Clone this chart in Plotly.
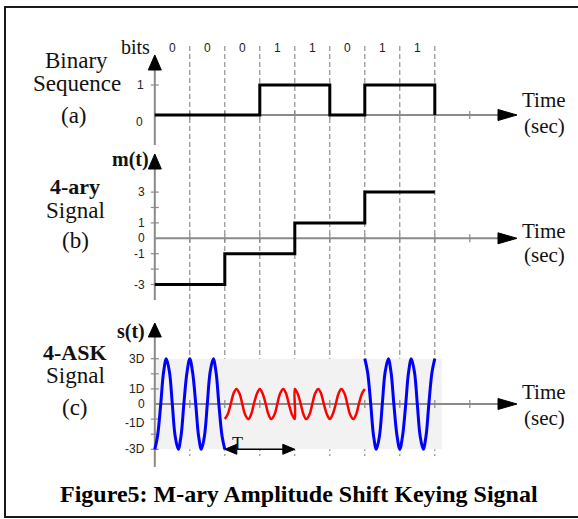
import plotly.graph_objects as go

# ---------------- data ----------------
bit_labels = ["0", "0", "0", "1", "1", "0", "1", "1"]
bit_values = [0, 0, 0, 1, 1, 0, 1, 1]
bit_edges = [0, 1, 2, 3, 4, 5, 6, 7, 8]

symbol_edges = [0, 2, 4, 6, 8]
symbol_levels = [-3, -1, 1, 3]

a_tick_vals = [1, 0]
a_tick_text = ["1", "0"]
b_tick_vals = [3, 1, 0, -1, -3]
b_tick_text = ["3", "1", "0", "-1", "-3"]
b_minor = [2, -2]
c_tick_vals = [3, 1, 0, -1, -3]
c_tick_text = ["3D", "1D", "0", "-1D", "-3D"]
c_minor = [2, -2]
time_ticks = [1, 2, 3, 4, 5, 6, 7, 8, 9]

# s(t) at eighth-carrier-period points
s_blue1_t = [0, 0.08, 0.17, 0.25, 0.33, 0.42, 0.5, 0.58, 0.67, 0.75, 0.83, 0.92, 1.0,
             1.08, 1.17, 1.25, 1.33, 1.42, 1.5, 1.58, 1.67, 1.75, 1.83, 1.92, 2.0]
s_blue1_v = [-3, -2.1, 0, 2.1, 3, 2.1, 0, -2.1, -3, -2.1, 0, 2.1, 3,
             2.1, 0, -2.1, -3, -2.1, 0, 2.1, 3, 2.1, 0, -2.1, -3]
s_red_t = [2.0, 2.08, 2.17, 2.25, 2.33, 2.42, 2.5, 2.58, 2.67, 2.75, 2.83, 2.92, 3.0,
           3.08, 3.17, 3.25, 3.33, 3.42, 3.5, 3.58, 3.67, 3.75, 3.83, 3.92, 4.0,
           4.0, 4.08, 4.17, 4.25, 4.33, 4.42, 4.5, 4.58, 4.67, 4.75, 4.83, 4.92, 5.0,
           5.08, 5.17, 5.25, 5.33, 5.42, 5.5, 5.58, 5.67, 5.75, 5.83, 5.92, 6.0]
s_red_v = [-1, -0.7, 0, 0.7, 1, 0.7, 0, -0.7, -1, -0.7, 0, 0.7, 1,
           0.7, 0, -0.7, -1, -0.7, 0, 0.7, 1, 0.7, 0, -0.7, -1,
           1, 0.7, 0, -0.7, -1, -0.7, 0, 0.7, 1, 0.7, 0, -0.7, -1,
           -0.7, 0, 0.7, 1, 0.7, 0, -0.7, -1, -0.7, 0, 0.7, 1]
s_blue2_t = [6.0, 6.08, 6.17, 6.25, 6.33, 6.42, 6.5, 6.58, 6.67, 6.75, 6.83, 6.92, 7.0,
             7.08, 7.17, 7.25, 7.33, 7.42, 7.5, 7.58, 7.67, 7.75, 7.83, 7.92, 8.0]
s_blue2_v = [3, 2.1, 0, -2.1, -3, -2.1, 0, 2.1, 3, 2.1, 0, -2.1, -3,
             -2.1, 0, 2.1, 3, 2.1, 0, -2.1, -3, -2.1, 0, 2.1, 3]

# ---------------- layout geometry ----------------
W, H = 578, 519
X0, PPU = 154.8, 35.0          # pixel of t=0, pixels per bit
A0, A_PPU = 115.0, 30.0        # panel (a) zero pixel row, px per unit
B0, B_PPU = 238.3, 15.4
C0, C_PPU = 404.0, 15.1

def xr(px0, ppu):
    return [-px0 / ppu, (W - px0) / ppu]

def yr(py0, ppu):
    return [(py0 - H) / ppu, py0 / ppu]

def P(px, py):
    return px / W, 1 - py / H

AXIS_COL = "#8a8a8a"
serif = "Liberation Serif, Times New Roman, serif"
sans = "Liberation Sans, Arial, sans-serif"

fig = go.Figure()

# traces
fig.add_trace(go.Scatter(x=bit_edges + [bit_edges[-1]], y=bit_values + [bit_values[-1], 0],
                         mode="lines", line=dict(color="black", width=3, shape="hv"),
                         xaxis="x", yaxis="y", hoverinfo="skip"))
fig.add_trace(go.Scatter(x=symbol_edges, y=symbol_levels + [symbol_levels[-1]],
                         mode="lines", line=dict(color="black", width=3, shape="hv"),
                         xaxis="x", yaxis="y2", hoverinfo="skip"))
fig.add_trace(go.Scatter(x=s_blue1_t, y=s_blue1_v, mode="lines",
                         line=dict(color="#0000ff", width=3, shape="spline"),
                         xaxis="x", yaxis="y3", hoverinfo="skip"))
fig.add_trace(go.Scatter(x=s_red_t, y=s_red_v, mode="lines",
                         line=dict(color="#ff0000", width=2.5, shape="spline"),
                         xaxis="x", yaxis="y3", hoverinfo="skip"))
fig.add_trace(go.Scatter(x=s_blue2_t, y=s_blue2_v, mode="lines",
                         line=dict(color="#0000ff", width=3, shape="spline"),
                         xaxis="x", yaxis="y3", hoverinfo="skip"))

shapes = []
# gray background of panel (c)
shapes.append(dict(type="rect", xref="x", yref="y3", x0=0, x1=8.2, y0=-3, y1=3,
                   fillcolor="#f2f2f2", line=dict(width=0), layer="below"))

# dashed bit boundaries
for t in bit_edges[1:]:
    shapes.append(dict(type="line", xref="x", yref="paper", x0=t, x1=t,
                       y0=1 - 46 / H, y1=1 - 456 / H,
                       line=dict(color="#7a7a7a", width=1, dash="5px,3px"), layer="below"))

T_TIP = (517 - X0) / PPU
T_BASE = (498 - X0) / PPU

def panel_axes(yref, ppu, vbot, vtip, vbase, ticks, minor):
    # horizontal axis
    shapes.append(dict(type="line", xref="x", yref=yref, x0=0, x1=T_BASE, y0=0, y1=0,
                       line=dict(color=AXIS_COL, width=2), layer="below"))
    hh = 5.5 / ppu
    shapes.append(dict(type="path", xref="x", yref=yref,
                       path=f"M {T_BASE},{hh} L {T_TIP},0 L {T_BASE},{-hh} Z",
                       fillcolor="black", line=dict(color="black", width=1)))
    for t in time_ticks:
        shapes.append(dict(type="line", xref="x", yref=yref, x0=t, x1=t,
                           y0=-4 / ppu, y1=4 / ppu,
                           line=dict(color=AXIS_COL, width=1.2), layer="below"))
    # vertical axis
    shapes.append(dict(type="line", xref="x", yref=yref, x0=0, x1=0, y0=vbot, y1=vbase,
                       line=dict(color=AXIS_COL, width=2), layer="below"))
    hw = 6.5 / PPU
    shapes.append(dict(type="path", xref="x", yref=yref,
                       path=f"M {-hw},{vbase} L 0,{vtip} L {hw},{vbase} Z",
                       fillcolor="black", line=dict(color="black", width=1)))
    for v in ticks + minor:
        if v == 0:
            continue
        shapes.append(dict(type="line", xref="x", yref=yref, x0=-4 / PPU, x1=4 / PPU,
                           y0=v, y1=v, line=dict(color=AXIS_COL, width=1.2), layer="below"))

panel_axes("y", A_PPU, (A0 - 145) / A_PPU, (A0 - 55) / A_PPU, (A0 - 70) / A_PPU, [1], [])
panel_axes("y2", B_PPU, (B0 - 300) / B_PPU, (B0 - 154) / B_PPU, (B0 - 169) / B_PPU,
           b_tick_vals, b_minor)
panel_axes("y3", C_PPU, (C0 - 467) / C_PPU, (C0 - 323) / C_PPU, (C0 - 337) / C_PPU,
           c_tick_vals, c_minor)

# T double arrow in (c)
ty = -3
shapes.append(dict(type="line", xref="x", yref="y3", x0=2 + 12 / PPU, x1=4 - 12 / PPU,
                   y0=ty, y1=ty, line=dict(color="black", width=1.5)))
ah = 5 / C_PPU
al = 12 / PPU
shapes.append(dict(type="path", xref="x", yref="y3",
                   path=f"M 2,{ty} L {2 + al},{ty + ah} L {2 + al},{ty - ah} Z",
                   fillcolor="black", line=dict(color="black", width=1)))
shapes.append(dict(type="path", xref="x", yref="y3",
                   path=f"M 4,{ty} L {4 - al},{ty + ah} L {4 - al},{ty - ah} Z",
                   fillcolor="black", line=dict(color="black", width=1)))

# outer frame
shapes.append(dict(type="rect", xref="paper", yref="paper",
                   x0=5 / W, x1=590 / W, y0=1 - 517 / H, y1=1 - 7 / H,
                   line=dict(color="#1a1a1a", width=2), fillcolor="rgba(0,0,0,0)"))

ann = []

def txt(px, py, s, size=23, family=serif, xanchor="center", color="#111", bold=False):
    x, y = P(px, py)
    if bold:
        s = f"<b>{s}</b>"
    ann.append(dict(x=x, y=y, xref="paper", yref="paper", text=s, showarrow=False,
                    xanchor=xanchor, yanchor="middle",
                    font=dict(size=size, family=family, color=color)))

# bit labels
for t, lab in zip(bit_edges[:-1], bit_labels):
    txt(X0 + (t + 0.5) * PPU, 48, lab, size=12, family=sans, color="#222")
txt(135, 47, "bits", size=20)

# tick labels (a)
for v, s in zip(a_tick_vals, a_tick_text):
    py = A0 - v * A_PPU + (7 if v == 0 else 0)
    txt(146 if v else 145, py, s, size=12, family=sans, xanchor="right", color="#222")
# (b)
for v, s in zip(b_tick_vals, b_tick_text):
    txt(146.5, B0 - v * B_PPU, s, size=12, family=sans, xanchor="right", color="#222")
# (c)
for v, s in zip(c_tick_vals, c_tick_text):
    off = 4 if v == -1 else 0
    txt(147, C0 - v * C_PPU + off, s, size=12, family=sans, xanchor="right", color="#222")

# axis names
txt(130, 160, "m(t)", size=20, bold=True)
txt(131, 331, "s(t)", size=20, bold=True)

# panel names
txt(77, 61, "Binary")
txt(77, 83, "Sequence")
txt(74, 115, "(a)")
txt(75, 187, "4-ary", size=22, bold=True)
txt(75, 210, "Signal")
txt(75, 240, "(b)")
txt(75, 352, "4-ASK", size=22, bold=True)
txt(75, 375, "Signal")
txt(75, 407, "(c)")

for ty_, sy_ in [(100, 126), (231, 255), (392, 418)]:
    txt(544, ty_, "Time", size=21)
    txt(544, sy_, "(sec)", size=21)

txt(237, 444, "T", size=18)

txt(299, 494, "Figure5: M-ary Amplitude Shift Keying Signal", size=24, bold=True, color="#000")

fig.update_layout(
    width=W, height=H,
    margin=dict(l=0, r=0, t=0, b=0),
    paper_bgcolor="white", plot_bgcolor="white",
    showlegend=False,
    font=dict(family=serif),
    xaxis=dict(range=xr(X0, PPU), visible=False, fixedrange=True),
    yaxis=dict(range=yr(A0, A_PPU), visible=False, fixedrange=True),
    yaxis2=dict(range=yr(B0, B_PPU), visible=False, fixedrange=True, overlaying="y"),
    yaxis3=dict(range=yr(C0, C_PPU), visible=False, fixedrange=True, overlaying="y"),
    shapes=shapes,
    annotations=ann,
)

fig.write_html("out.html", config={"displayModeBar": False},
               post_script="document.body.style.margin='0';document.body.style.overflow='hidden';")
